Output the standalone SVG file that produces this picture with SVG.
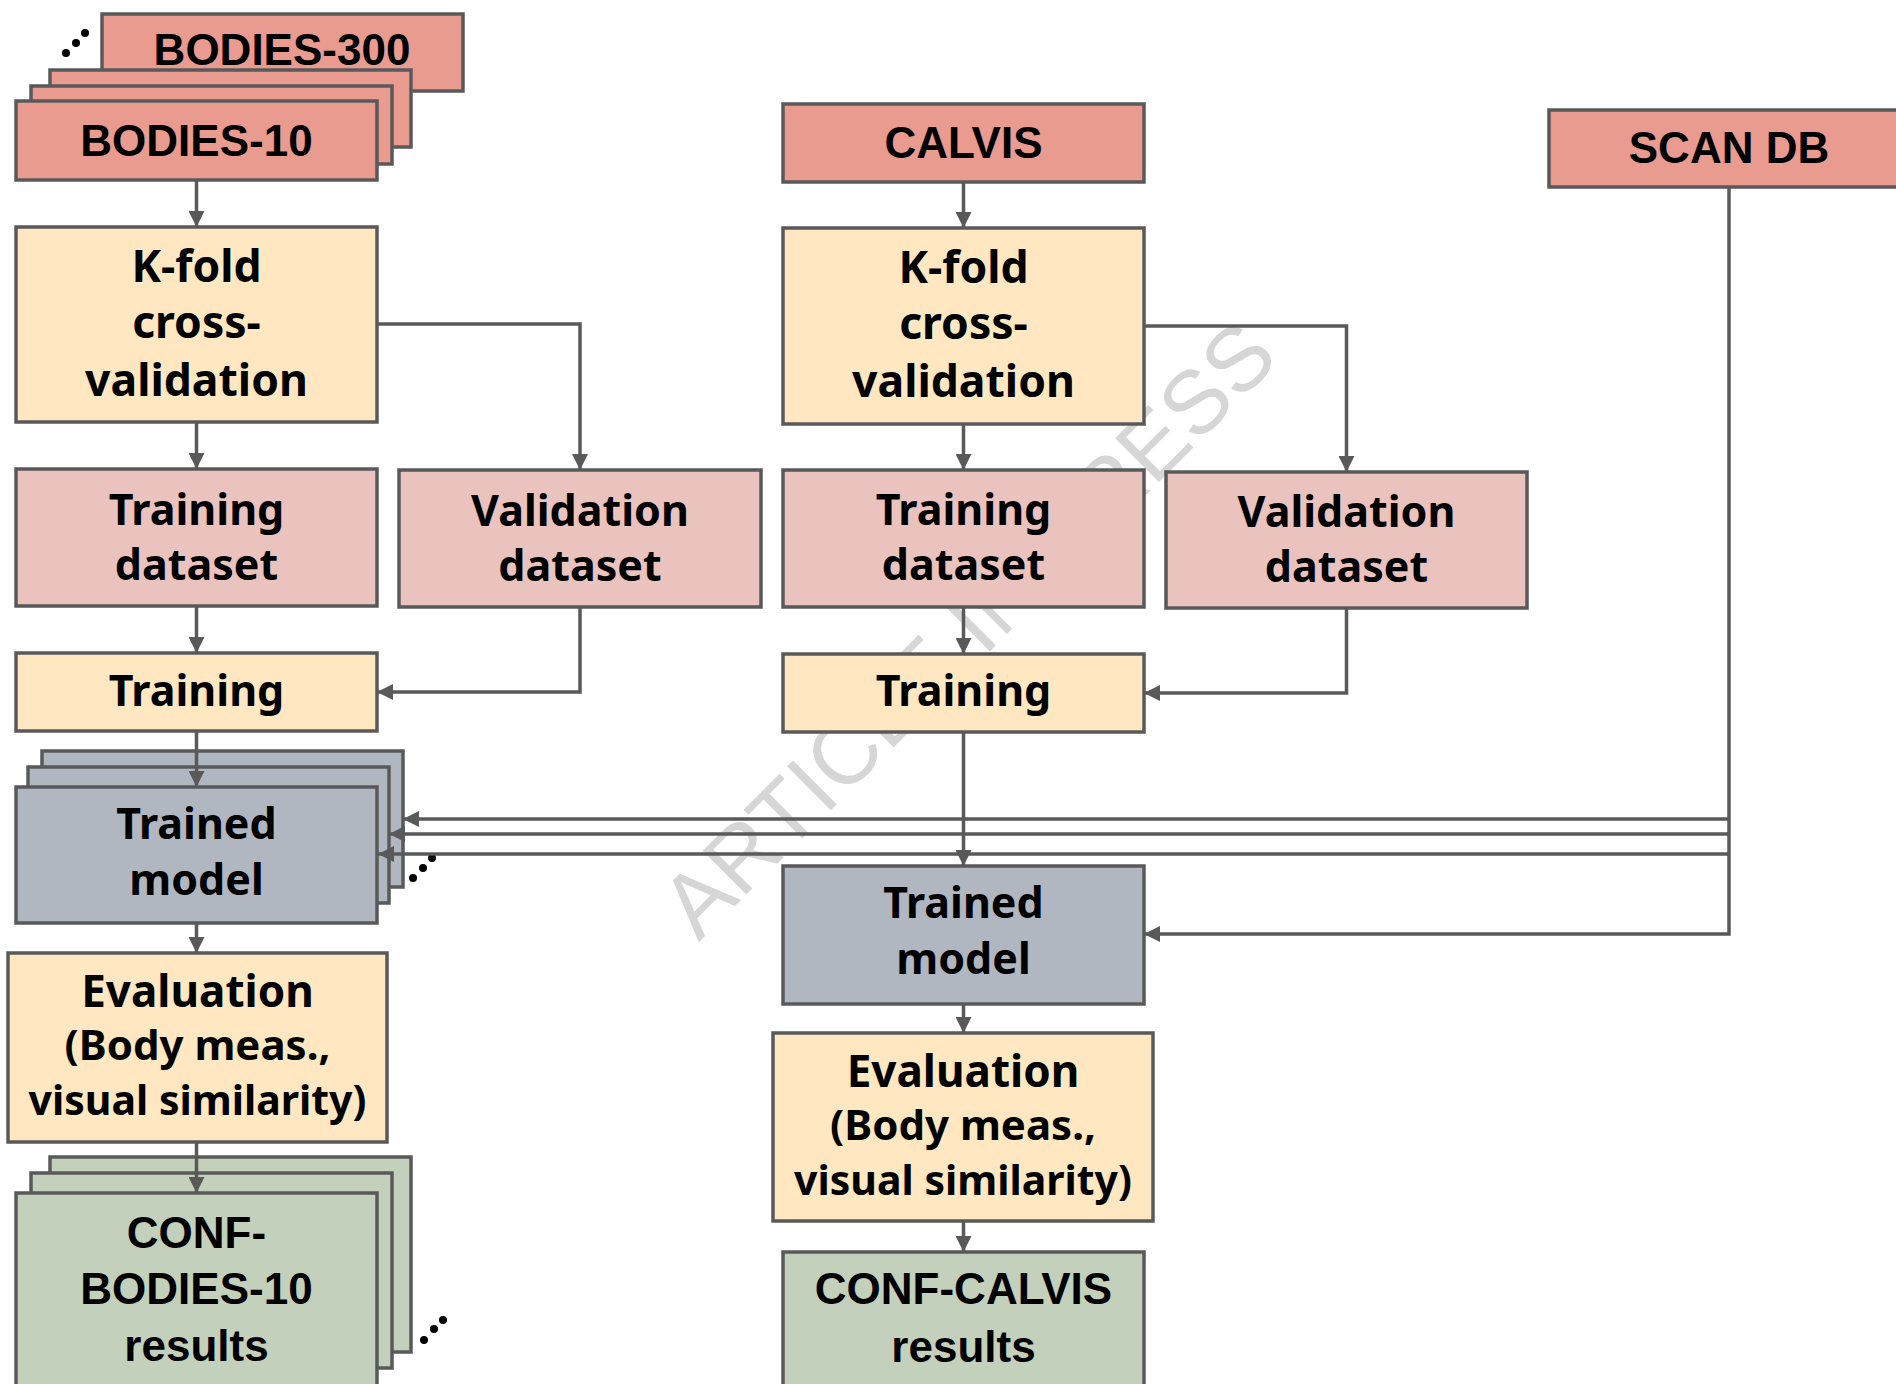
<svg xmlns="http://www.w3.org/2000/svg" width="1896" height="1384" viewBox="0 0 1896 1384">
<style>
.box{stroke:#595959;stroke-width:3.5}
.hdr{fill:#EA9B90}
.yel{fill:#FFE8C1}
.pnk{fill:#EBC3BE}
.gry{fill:#B0B7C0}
.grn{fill:#C3D0BB}
.ta{font-family:"Liberation Sans",Arial,sans-serif;font-weight:bold;font-size:44px;fill:#000;text-anchor:middle}
.tb{font-family:"Noto Sans","Open Sans",sans-serif;font-weight:bold;font-size:43px;fill:#000;text-anchor:middle}
.kf{font-size:44.5px}
.ev1{font-size:44px}
.ev2{font-size:42px}
.ev3{font-size:41px}
.conn{fill:none;stroke:#595959;stroke-width:3.5}
.dot{fill:#000}
</style>
<defs>
<marker id="ah" markerUnits="userSpaceOnUse" markerWidth="16" markerHeight="16" refX="16" refY="8" orient="auto">
<path d="M0,0 L16,8 L0,16 z" fill="#595959"/>
</marker>
</defs>
<rect width="1896" height="1384" fill="#fff"/>
<text transform="translate(990,651) rotate(-45)" font-family="Liberation Sans,Arial,sans-serif" font-size="90" fill="#d6d6d6" text-anchor="middle">ARTICLE IN PRESS</text>

<g id="bodies">
<rect class="box hdr" x="102" y="14" width="361" height="77"/>
<text class="ta" x="282" y="65">BODIES-300</text>
<rect class="box hdr" x="50" y="70" width="361" height="77"/>
<rect class="box hdr" x="31" y="86" width="361" height="78"/>
<rect class="box hdr" x="16" y="101" width="361" height="79"/>
<text class="ta" x="196.5" y="156">BODIES-10</text>
<circle class="dot" cx="66" cy="53" r="4"/><circle class="dot" cx="76" cy="43" r="4"/><circle class="dot" cx="85" cy="33" r="4"/>
</g>
<g id="kfold-left">
<rect class="box yel" x="16" y="227" width="361" height="195"/>
<text class="tb kf" x="196.5" y="282">K-fold</text>
<text class="tb kf" x="196.5" y="338">cross-</text>
<text class="tb kf" x="196.5" y="396">validation</text>
</g>
<g id="trainds-left">
<rect class="box pnk" x="16" y="469" width="361" height="137"/>
<text class="tb" x="196.5" y="525">Training</text>
<text class="tb" x="196.5" y="580">dataset</text>
</g>
<g id="valds-left">
<rect class="box pnk" x="399" y="470" width="362" height="137"/>
<text class="tb" x="580" y="526">Validation</text>
<text class="tb" x="580" y="581">dataset</text>
</g>
<g id="training-left">
<rect class="box yel" x="16" y="653" width="361" height="78"/>
<text class="tb" x="196.5" y="706">Training</text>
</g>
<g id="trained-left">
<rect class="box gry" x="42" y="751" width="361" height="136"/>
<rect class="box gry" x="28" y="767" width="361" height="136"/>
<rect class="box gry" x="16" y="787" width="361" height="136"/>
<text class="tb" x="196.5" y="839">Trained</text>
<text class="tb" x="196.5" y="895">model</text>
<circle class="dot" cx="413" cy="878" r="4"/><circle class="dot" cx="423" cy="868" r="4"/><circle class="dot" cx="432" cy="858" r="4"/>
</g>
<g id="eval-left">
<rect class="box yel" x="8" y="953" width="379" height="189"/>
<text class="tb ev1" x="197.5" y="1007">Evaluation</text>
<text class="tb ev2" x="197.5" y="1060">(Body meas.,</text>
<text class="tb ev3" x="197.5" y="1115">visual similarity)</text>
</g>
<g id="conf-left">
<rect class="box grn" x="50" y="1157" width="361" height="195"/>
<rect class="box grn" x="31" y="1173" width="361" height="195"/>
<rect class="box grn" x="16" y="1193" width="361" height="200"/>
<text class="ta" x="196.5" y="1248">CONF-</text>
<text class="ta" x="196.5" y="1304">BODIES-10</text>
<text class="ta" x="196.5" y="1361">results</text>
<circle class="dot" cx="424" cy="1340" r="4"/><circle class="dot" cx="434" cy="1329" r="4"/><circle class="dot" cx="443" cy="1320" r="4"/>
</g>

<g id="calvis">
<rect class="box hdr" x="783" y="104" width="361" height="78"/>
<text class="ta" x="963.5" y="158">CALVIS</text>
</g>
<g id="kfold-mid">
<rect class="box yel" x="783" y="228" width="361" height="196"/>
<text class="tb kf" x="963.5" y="283">K-fold</text>
<text class="tb kf" x="963.5" y="339">cross-</text>
<text class="tb kf" x="963.5" y="397">validation</text>
</g>
<g id="trainds-mid">
<rect class="box pnk" x="783" y="470" width="361" height="137"/>
<text class="tb" x="963.5" y="525">Training</text>
<text class="tb" x="963.5" y="580">dataset</text>
</g>
<g id="valds-mid">
<rect class="box pnk" x="1166" y="472" width="361" height="136"/>
<text class="tb" x="1346.5" y="527">Validation</text>
<text class="tb" x="1346.5" y="582">dataset</text>
</g>
<g id="training-mid">
<rect class="box yel" x="783" y="654" width="361" height="78"/>
<text class="tb" x="963.5" y="706">Training</text>
</g>
<g id="trained-mid">
<rect class="box gry" x="783" y="866" width="361" height="138"/>
<text class="tb" x="963.5" y="918">Trained</text>
<text class="tb" x="963.5" y="974">model</text>
</g>
<g id="eval-mid">
<rect class="box yel" x="773" y="1033" width="380" height="188"/>
<text class="tb ev1" x="963" y="1087">Evaluation</text>
<text class="tb ev2" x="963" y="1140">(Body meas.,</text>
<text class="tb ev3" x="963" y="1195">visual similarity)</text>
</g>
<g id="conf-mid">
<rect class="box grn" x="783" y="1252" width="361" height="150"/>
<text class="ta" x="963.5" y="1304">CONF-CALVIS</text>
<text class="ta" x="963.5" y="1362">results</text>
</g>
<g id="scandb">
<rect class="box hdr" x="1549" y="110" width="360" height="77"/>
<text class="ta" x="1729" y="163">SCAN DB</text>
</g>

<g id="connectors">
<path class="conn" marker-end="url(#ah)" d="M196.5,180 V227"/>
<path class="conn" marker-end="url(#ah)" d="M196.5,422 V469"/>
<path class="conn" marker-end="url(#ah)" d="M377,324 H580 V470"/>
<path class="conn" marker-end="url(#ah)" d="M196.5,606 V653"/>
<path class="conn" marker-end="url(#ah)" d="M580,607 V692 H377"/>
<path class="conn" marker-end="url(#ah)" d="M196.5,731 V787"/>
<path class="conn" marker-end="url(#ah)" d="M196.5,923 V953"/>
<path class="conn" marker-end="url(#ah)" d="M196.5,1142 V1193"/>
<path class="conn" marker-end="url(#ah)" d="M963.5,182 V228"/>
<path class="conn" marker-end="url(#ah)" d="M963.5,424 V470"/>
<path class="conn" marker-end="url(#ah)" d="M1144,326 H1346.5 V472"/>
<path class="conn" marker-end="url(#ah)" d="M963.5,607 V654"/>
<path class="conn" marker-end="url(#ah)" d="M1346.5,608 V693 H1144"/>
<path class="conn" marker-end="url(#ah)" d="M963.5,732 V866"/>
<path class="conn" marker-end="url(#ah)" d="M963.5,1004 V1033"/>
<path class="conn" marker-end="url(#ah)" d="M963.5,1221 V1252"/>
<path class="conn" marker-end="url(#ah)" d="M1729,187 V934 H1144"/>
<path class="conn" marker-end="url(#ah)" d="M1729,819 H403"/>
<path class="conn" marker-end="url(#ah)" d="M1729,834 H389"/>
<path class="conn" marker-end="url(#ah)" d="M1729,854 H378"/>
</g>
</svg>
